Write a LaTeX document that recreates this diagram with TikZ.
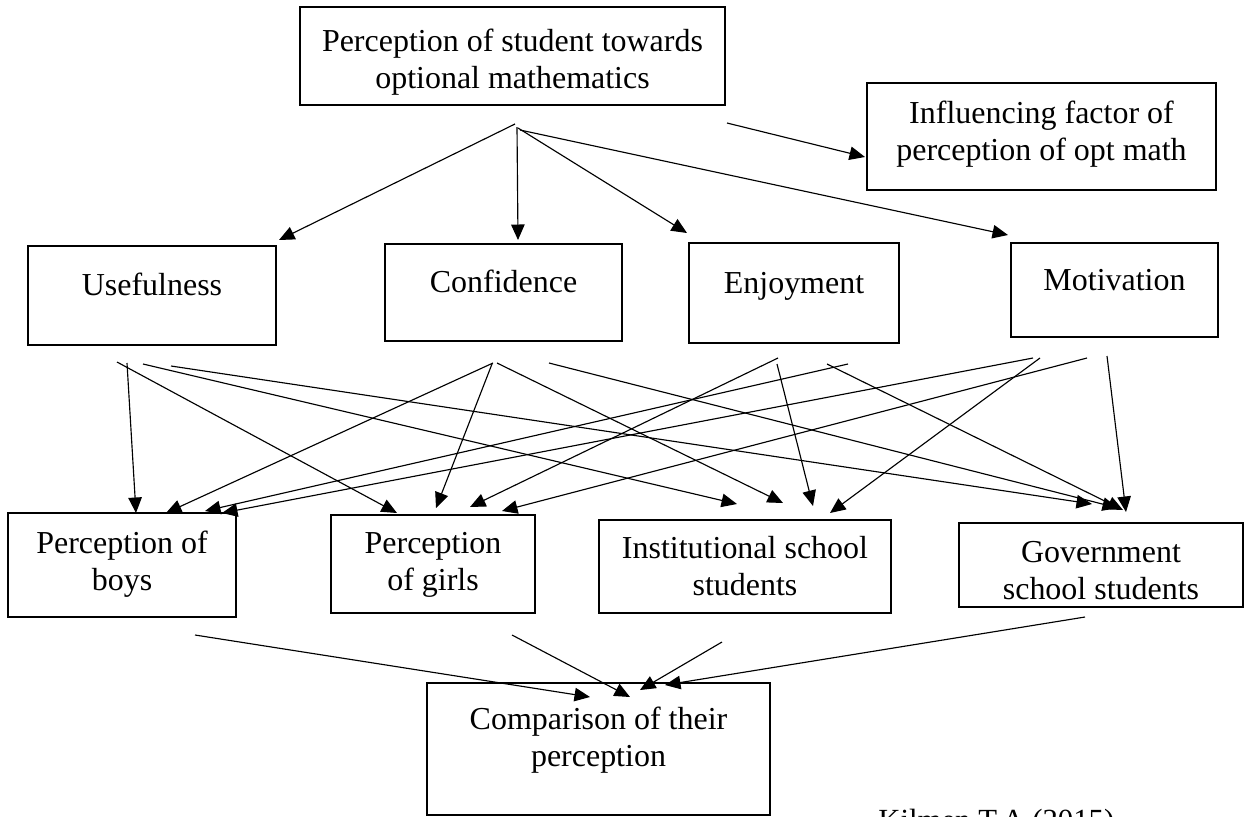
\documentclass[tikz,border=0pt]{standalone}
\usepackage{fontspec}
\setmainfont{Liberation Serif}
\usetikzlibrary{arrows.meta}
\begin{document}
\begin{tikzpicture}[x=0.02cm, y=-0.02cm,
  box/.style={draw, line width=1.1pt, inner sep=0pt, align=center,
    font=\fontsize{18.2}{21.05}\selectfont},
  one/.style={text height=0.4cm, text depth=0.4cm},
  two/.style={text depth=0.2cm, text height=#1},
  arr/.style={line width=0.65pt, -{Triangle[length=0.31cm, width=0.27cm]}}]
\fill[white] (0,0) rectangle (1251,816);
\clip (0,0) rectangle (1251,816);
\useasboundingbox (0,0) rectangle (1251,816);

% boxes
\node[box, two=1.48cm, minimum width=8.5cm, minimum height=1.96cm] (top) at (512.5,56)
  {Perception of student towards\\optional mathematics};
\node[box, two=1.14cm, minimum width=6.98cm, minimum height=2.14cm] (infl) at (1041.5,136.5)
  {Influencing factor of\\perception of opt math};
\node[box, one, minimum width=4.96cm, minimum height=1.98cm] (use) at (152,295.5) {Usefulness};
\node[box, one, minimum width=4.74cm, minimum height=1.94cm] (conf) at (503.5,292.5) {Confidence};
\node[box, one, minimum width=4.2cm, minimum height=2.0cm] (enj) at (794,293) {Enjoyment};
\node[box, one, minimum width=4.14cm, minimum height=1.88cm] (mot) at (1114.5,290) {Motivation};
\node[box, two=1.2cm, minimum width=4.56cm, minimum height=2.08cm] (boys) at (122,565)
  {Perception of\\boys};
\node[box, two=1.24cm, minimum width=4.08cm, minimum height=1.96cm] (girls) at (433,564)
  {Perception\\of girls};
\node[box, two=1.34cm, minimum width=5.84cm, minimum height=1.86cm] (inst) at (745,566.5)
  {Institutional school\\students};
\node[box, text height=1.38cm, text depth=0cm, minimum width=5.68cm, minimum height=1.68cm] (gov) at (1101,565)
  {Government\\school students};
\node[box, two=0.88cm, minimum width=6.86cm, minimum height=2.64cm] (comp) at (598.5,749)
  {Comparison of their\\perception};
\node[anchor=base west, inner sep=0pt, font=\fontsize{17.5}{21}\selectfont] (src) at (878,830)
  {Kilmen T.A (2015)};

% connector end points
\coordinate (t1) at (515,124); \coordinate (t1e) at (279,240);
\coordinate (t2) at (517,127); \coordinate (t2e) at (518,240);
\coordinate (t3) at (518,128); \coordinate (t3e) at (687,233);
\coordinate (t4) at (520,130); \coordinate (t4e) at (1008,235);
\coordinate (t5) at (727,123); \coordinate (t5e) at (865,157);

\coordinate (u1) at (127,363); \coordinate (u1e) at (136,513);
\coordinate (u2) at (117,362); \coordinate (u2e) at (397,513);
\coordinate (u3) at (143,364); \coordinate (u3e) at (737,504);
\coordinate (u4) at (171,366); \coordinate (u4e) at (1092,504);

\coordinate (c1) at (493,363); \coordinate (c1e) at (166,513);
\coordinate (c2) at (492,364); \coordinate (c2e) at (436,508);
\coordinate (c3) at (497,363); \coordinate (c3e) at (783,503);
\coordinate (c4) at (549,363); \coordinate (c4e) at (1118,508);

\coordinate (e1) at (848,364); \coordinate (e1e) at (205,511);
\coordinate (e2) at (778,358); \coordinate (e2e) at (470,507);
\coordinate (e3) at (777,364); \coordinate (e3e) at (813,506);
\coordinate (e4) at (827,364); \coordinate (e4e) at (1123,510);

\coordinate (m1) at (1033,358); \coordinate (m1e) at (222,513);
\coordinate (m2) at (1087,358); \coordinate (m2e) at (502,511);
\coordinate (m3) at (1040,358); \coordinate (m3e) at (830,513);
\coordinate (m4) at (1107,356); \coordinate (m4e) at (1126,512);

\coordinate (b1) at (195,635); \coordinate (b1e) at (590,697);
\coordinate (b2) at (512,635); \coordinate (b2e) at (630,697);
\coordinate (b3) at (722,642); \coordinate (b3e) at (640,690);
\coordinate (b4) at (1085,617); \coordinate (b4e) at (665,685);

\foreach \p in {t1,t2,t3,t4,t5,u1,u2,u3,u4,c1,c2,c3,c4,e1,e2,e3,e4,m1,m2,m3,m4,b1,b2,b3,b4}
  \draw[arr] (\p) -- (\p e);
\end{tikzpicture}
\end{document}
